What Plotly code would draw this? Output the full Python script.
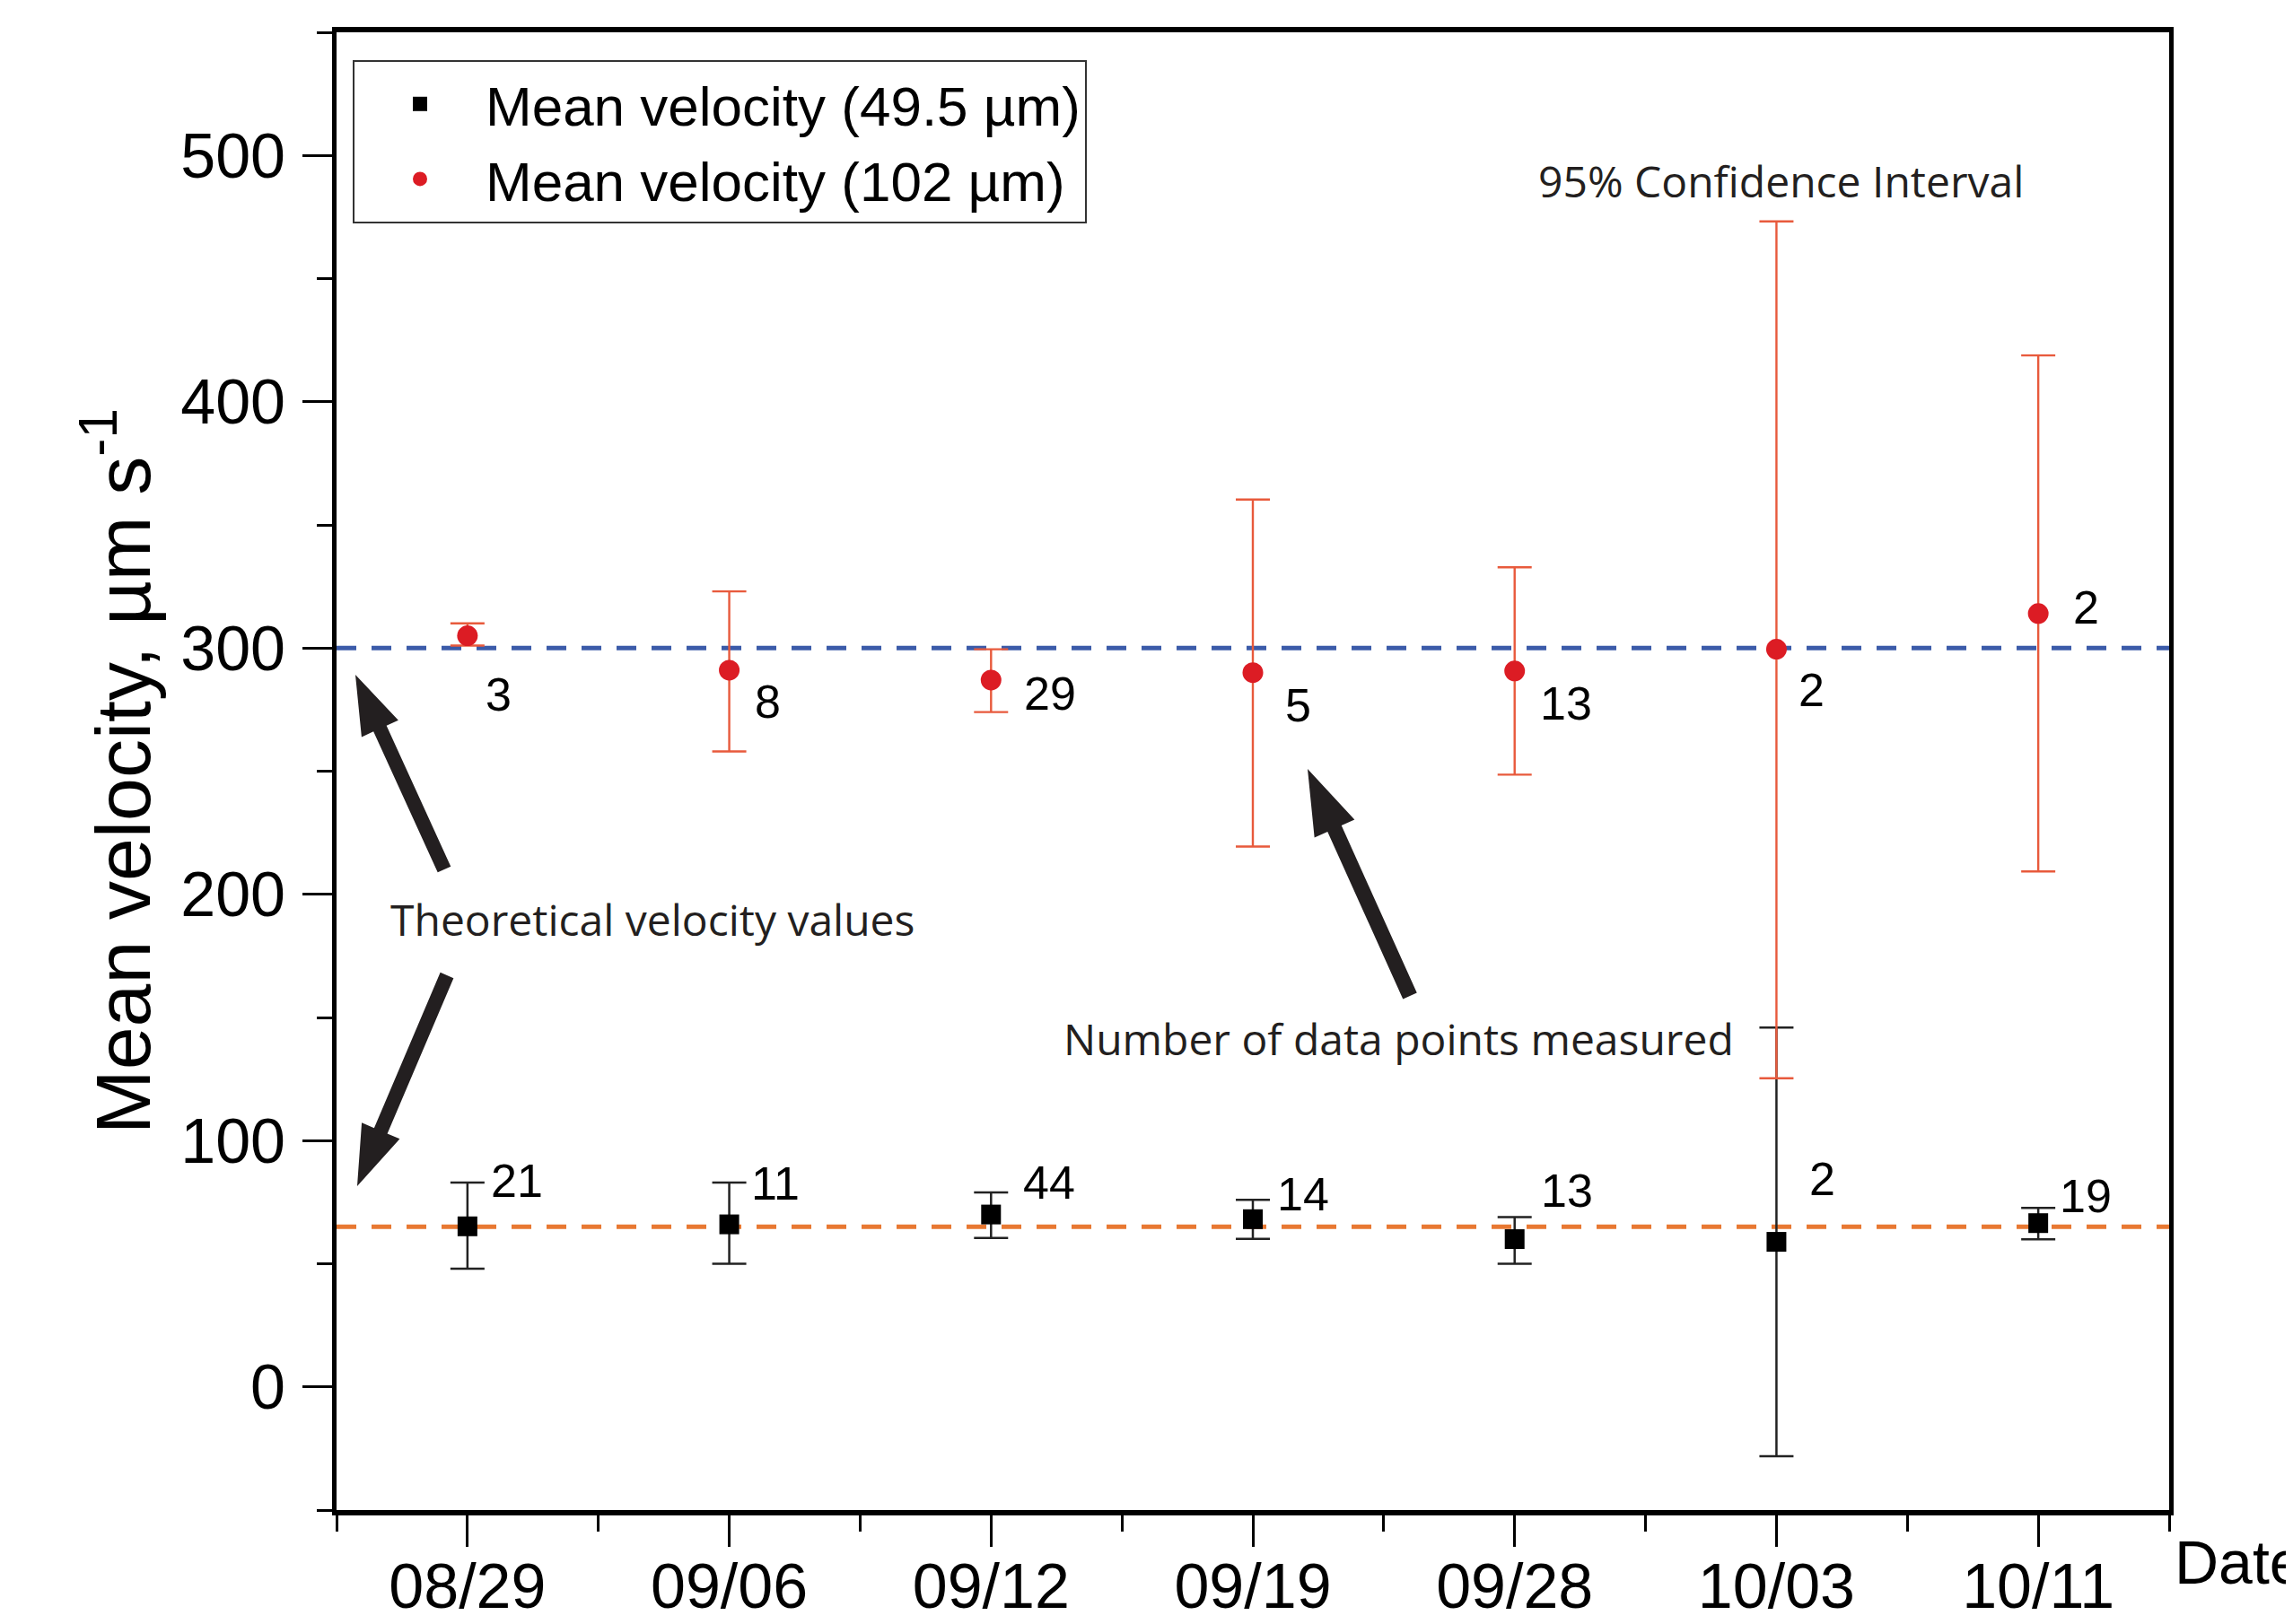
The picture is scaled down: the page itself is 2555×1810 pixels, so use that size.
import math
import plotly.graph_objects as go

# ---------------- data ----------------
dates = ["08/29", "09/06", "09/12", "09/19", "09/28", "10/03", "10/11"]

# 49.5 um channel (black squares)
mean_small = [65.2, 66.0, 70.0, 68.1, 60.0, 58.9, 66.5]
ci_hi_small = [83.0, 83.0, 79.0, 76.0, 68.9, 145.9, 72.7]
ci_lo_small = [48.0, 50.0, 60.5, 60.1, 50.0, -28.1, 59.9]
n_small = [21, 11, 44, 14, 13, 2, 19]

# 102 um channel (red circles)
mean_large = [305.0, 291.0, 287.0, 290.0, 290.7, 299.5, 314.0]
ci_hi_large = [310.0, 323.0, 299.5, 360.3, 332.8, 473.2, 418.8]
ci_lo_large = [301.0, 258.0, 274.0, 219.4, 248.6, 125.3, 209.3]
n_large = [3, 8, 29, 5, 13, 2, 2]

theory_small = 65.0
theory_large = 300.0

# ---------------- layout geometry (page pixels) ----------------
W, H = 2555, 1810
BODY = 8  # default page body margin of the html page
L, R, T, B = 375, 2417, 36, 1683

def px_to_paper(x, y):
    return (x - L) / (R - L), (B - y) / (B - T)

xs = list(range(len(dates)))

BLACK = "#000000"
RED = "#dc1c24"
RED_ERR = "#e85a3c"
BLUE_DASH = "#3b5ba9"
ORANGE_DASH = "#e87832"
INK = "#231f20"

fig = go.Figure()

fig.add_trace(go.Scatter(
    x=xs, y=mean_small, mode="markers", name="Mean velocity (49.5 \u00b5m)",
    marker=dict(symbol="square", size=22, color=BLACK),
    error_y=dict(type="data", symmetric=False,
                 array=[h - m for h, m in zip(ci_hi_small, mean_small)],
                 arrayminus=[m - l for l, m in zip(ci_lo_small, mean_small)],
                 color="#222222", thickness=2.5, width=19),
    cliponaxis=False,
))
fig.add_trace(go.Scatter(
    x=xs, y=mean_large, mode="markers", name="Mean velocity (102 \u00b5m)",
    marker=dict(symbol="circle", size=23, color=RED),
    error_y=dict(type="data", symmetric=False,
                 array=[h - m for h, m in zip(ci_hi_large, mean_large)],
                 arrayminus=[m - l for l, m in zip(ci_lo_large, mean_large)],
                 color=RED_ERR, thickness=2.4, width=19),
    cliponaxis=False,
))

# theoretical velocity lines
for val, col in [(theory_large, BLUE_DASH), (theory_small, ORANGE_DASH)]:
    fig.add_shape(type="line", xref="paper", x0=0, x1=1, yref="y", y0=val, y1=val,
                  line=dict(color=col, width=5, dash="22px,17px"), layer="below")

# count labels (offsets in pixels from each marker)
off_large = [(35, 65), (43, 35), (66, 15), (50, 36), (57, 36), (39, 45), (53, -7)]
off_small = [(55, -51), (51, -46), (65, -36), (56, -28), (58, -54), (51, -70), (53, -30)]
annots = []
for i in range(len(dates)):
    dx, dy = off_large[i]
    annots.append(dict(x=xs[i], y=mean_large[i], xref="x", yref="y", text=str(n_large[i]),
                       showarrow=False, xshift=dx, yshift=-dy,
                       font=dict(family="Liberation Sans, Arial", size=52, color=BLACK)))
    dx, dy = off_small[i]
    annots.append(dict(x=xs[i], y=mean_small[i], xref="x", yref="y", text=str(n_small[i]),
                       showarrow=False, xshift=dx, yshift=-dy,
                       font=dict(family="Liberation Sans, Arial", size=52, color=BLACK)))

# descriptive text
texts = [("95% Confidence Interval", 1984, 202),
         ("Theoretical velocity values", 727, 1025),
         ("Number of data points measured", 1558, 1157)]
for t, x, y in texts:
    px, py = px_to_paper(x, y)
    annots.append(dict(x=px, y=py, xref="paper", yref="paper", text=t, showarrow=False,
                       xanchor="center", yanchor="middle",
                       font=dict(family="Open Sans", size=48, color=INK)))

# x axis title "Date" at lower right (cut by the page edge as in the original)
px, py = px_to_paper(2421, 1741)
annots.append(dict(x=px, y=py, xref="paper", yref="paper", text="Date", showarrow=False,
                   xanchor="left", yanchor="middle",
                   font=dict(family="Liberation Sans, Arial", size=68, color=BLACK)))

# arrows as filled polygons
def arrow_path(tail, tip, shaft_w, head_l, head_w):
    tx, ty = tail
    hx, hy = tip
    dx, dy = hx - tx, hy - ty
    d = math.hypot(dx, dy)
    ux, uy = dx / d, dy / d
    nx, ny = -uy, ux
    bx, by = hx - ux * head_l, hy - uy * head_l
    pts = [
        (tx + nx * shaft_w / 2, ty + ny * shaft_w / 2),
        (bx + nx * shaft_w / 2, by + ny * shaft_w / 2),
        (bx + nx * head_w / 2, by + ny * head_w / 2),
        (hx, hy),
        (bx - nx * head_w / 2, by - ny * head_w / 2),
        (bx - nx * shaft_w / 2, by - ny * shaft_w / 2),
        (tx - nx * shaft_w / 2, ty - ny * shaft_w / 2),
    ]
    pp = [px_to_paper(x, y) for x, y in pts]
    return "M " + " L ".join(f"{x:.5f},{y:.5f}" for x, y in pp) + " Z"

arrows = [((495, 969), (396, 752), 16, 66, 45),
          ((498, 1087), (398, 1322), 16, 67, 46),
          ((1571, 1110), (1457, 857), 17, 73, 49)]
for tail, tip, sw, hl, hw in arrows:
    fig.add_shape(type="path", xref="paper", yref="paper", path=arrow_path(tail, tip, sw, hl, hw),
                  fillcolor=INK, line=dict(width=0), layer="above")

lx, ly = px_to_paper(393, 67)
fig.update_layout(
    width=W, height=H, autosize=False,
    margin=dict(l=L - BODY, r=W - R + BODY, t=T - BODY, b=H - B + BODY, pad=0, autoexpand=False),
    paper_bgcolor="white", plot_bgcolor="white",
    showlegend=True,
    legend=dict(x=lx, y=ly, xanchor="left", yanchor="top",
                bgcolor="white", bordercolor="#333333", borderwidth=2,
                font=dict(family="Liberation Sans, Arial", size=62, color=BLACK),
                itemwidth=136, tracegroupgap=0),
    annotations=annots,
    font=dict(family="Liberation Sans, Arial", color=BLACK),
)
fig.update_xaxes(
    range=[-0.5, 6.5], tickmode="array", tickvals=xs, ticktext=dates,
    ticks="outside", ticklen=35, tickwidth=3, tickcolor=BLACK,
    showline=True, linewidth=6, linecolor=BLACK, mirror=True,
    showgrid=False, zeroline=False, automargin=False,
    tickfont=dict(family="Liberation Sans, Arial", size=70, color=BLACK),
    ticklabelstandoff=-16,
    minor=dict(ticks="outside", ticklen=18, tickwidth=3, tickcolor=BLACK, tick0=0.5, dtick=1, showgrid=False),
)
fig.update_yaxes(
    range=[-50, 550], tickmode="linear", tick0=0, dtick=100,
    ticks="outside", ticklen=33, tickwidth=3, tickcolor=BLACK,
    showline=True, linewidth=5, linecolor=BLACK, mirror=True,
    showgrid=False, zeroline=False, automargin=False,
    tickfont=dict(family="Liberation Sans, Arial", size=70, color=BLACK),
    ticklabelstandoff=5,
    title=dict(text="Mean velocity, \u00b5m s<sup>-1</sup>", standoff=7,
               font=dict(family="Liberation Sans, Arial", size=86, color=BLACK)),
    minor=dict(ticks="outside", ticklen=17, tickwidth=3, tickcolor=BLACK, tick0=0, dtick=50, showgrid=False),
)

fig.write_html("out.html")
